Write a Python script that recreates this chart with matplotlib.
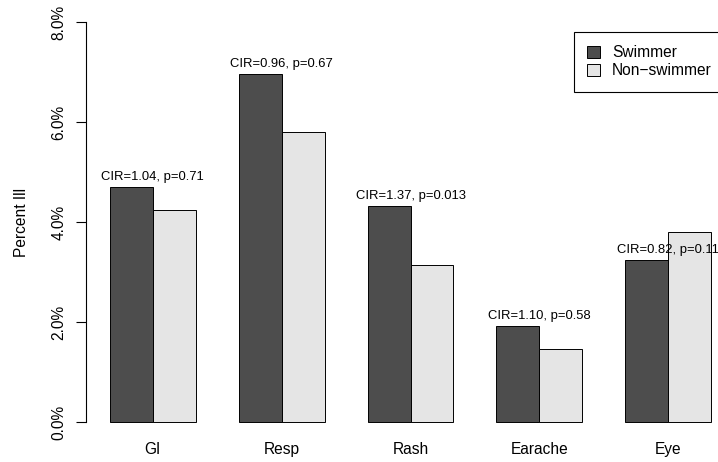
import matplotlib.pyplot as plt
import numpy as np

plt.rcParams['font.family'] = ['Liberation Sans', 'DejaVu Sans']

# illness rates by symptom group
groups = ['GI', 'Resp', 'Rash', 'Earache', 'Eye']
swimmer = [4.70, 6.96, 4.32, 1.92, 3.24]
non_swimmer = [4.24, 5.80, 3.14, 1.47, 3.80]
stats = ['CIR=1.04, p=0.71', 'CIR=0.96, p=0.67', 'CIR=1.37, p=0.013',
         'CIR=1.10, p=0.58', 'CIR=0.82, p=0.11']
yticks = [0, 2, 4, 6, 8]

W, H = 718, 462
fig = plt.figure(figsize=(W / 100, H / 100), dpi=100)
# plot region runs past the right edge, as in a cropped R device
ax = fig.add_axes([85.5 / W, 24 / H, 650 / W, 432 / H])

centers = np.arange(len(groups)) * 3 + 2
ax.bar(centers - 0.5, swimmer, width=1, color='#4d4d4d', edgecolor='black',
       linewidth=0.7, label='Swimmer')
ax.bar(centers + 0.5, non_swimmer, width=1, color='#e5e5e5', edgecolor='black',
       linewidth=0.7, label='Non\u2212swimmer')

#stats text sits on top of the swimmer bar
for c, v, s in zip(centers, swimmer, stats):
    ax.annotate(s, (c, v), xytext=(0, 3), textcoords='offset points',
                ha='center', va='bottom', fontsize=9.4)

ax.set_xlim(0.44, 15.56)
ax.set_ylim(-0.32, 8.32)

ax.set_yticks(yticks)
ax.set_yticklabels(['%.1f%%' % t for t in yticks], rotation=90, va='center',
                   fontsize=11.2)
ax.tick_params(axis='y', length=7, width=0.8, pad=6.5)
ax.spines['left'].set_bounds(0, 8)
ax.spines['left'].set_linewidth(0.8)
for side in ['top', 'right', 'bottom']:
    ax.spines[side].set_visible(False)

ax.set_xticks(centers)
ax.set_xticklabels(groups, fontsize=11.2)
ax.tick_params(axis='x', length=0, pad=3)

fig.text(22 / W, 1 - 222 / H, 'Percent Ill', rotation=90, ha='center',
         va='center', fontsize=11.2)

leg = ax.legend(loc='upper left', bbox_to_anchor=(574 / W, 1 - 32 / H),
                bbox_transform=fig.transFigure, fontsize=11.2, frameon=True,
                fancybox=False, edgecolor='black', framealpha=1,
                handlelength=0.8, handleheight=0.8, handletextpad=0.8,
                borderpad=0.85, labelspacing=0.2, borderaxespad=0)
leg.get_frame().set_linewidth(0.8)

fig.savefig('out.png', dpi=100)
